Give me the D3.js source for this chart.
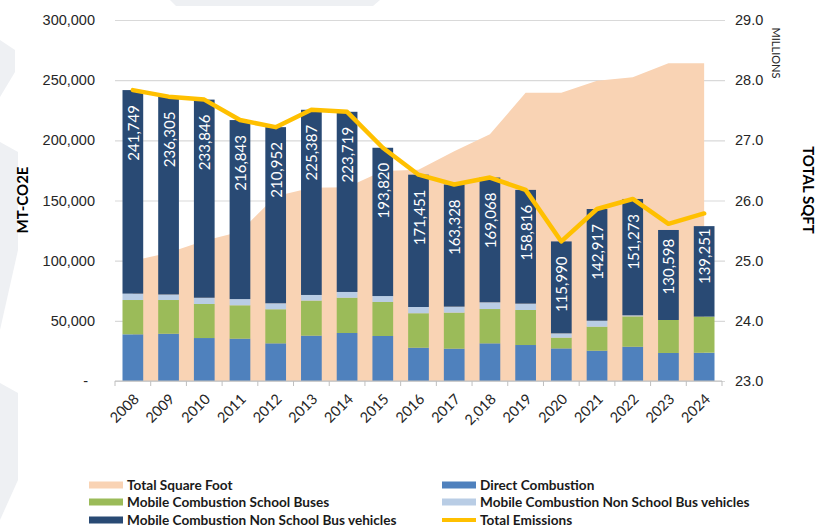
<!DOCTYPE html>
<html><head><meta charset="utf-8">
<script src="https://cdn.jsdelivr.net/npm/d3@7"></script>
<style>
body{margin:0;background:#fff;}
svg{display:block;font-family:Lato,'Open Sans',sans-serif;}
</style>
</head><body>
<svg id="chart" width="817" height="527"></svg>
<script>
const categories = ["2008","2009","2010","2011","2012","2013","2014","2015","2016","2017","2,018","2019","2020","2021","2022","2023","2024"];
const directCombustion = [38800,39300,35700,35200,31300,37700,39900,37400,27700,26900,31300,29900,27100,25200,28500,23300,23500];
const schoolBuses = [28500,28000,28300,27700,28300,29100,29300,28300,28600,29900,28500,29100,8900,19900,25200,27400,30000];
const nonSchoolLight = [5300,4600,5200,5200,5000,4700,4800,4900,5200,5000,5600,5300,3600,5000,900,0,0];
const nonSchoolDark = [169149,164405,164646,148743,146352,153887,149719,123220,109951,101528,103668,94516,76390,92817,96673,74800,75200];
const totalEmissions = [241749,236305,233846,216843,210952,225387,223719,193820,171451,163328,169068,158816,115990,142917,151273,130598,139251];
const totalSquareFootMillions = [25.0,25.13,25.33,25.48,26.07,26.21,26.22,26.49,26.51,26.82,27.1,27.79,27.79,27.99,28.05,28.28,28.28];
const leftTicks = [0,50000,100000,150000,200000,250000,300000];
const rightTicks = [23,24,25,26,27,28,29];
const seriesNames = ["Direct Combustion","Mobile Combustion School Buses","Mobile Combustion Non School Bus vehicles","Mobile Combustion Non School Bus vehicles"];
const seriesColors = ["#4f81bd","#9bbb59","#b9cde5","#294a74"];
const areaColor = "#f9d3b4";
const lineColor = "#ffc000";

const svg = d3.select("#chart");

// faint background decoration
const deco = [
  [[170,0],[380,0],[373,6],[176,6]],
  [[0,40],[15,50],[15,72],[0,97]],
  [[0,142],[18,152],[18,250],[0,330]],
  [[0,383],[18,393],[18,480],[0,520]]
];
svg.append("g").selectAll("path").data(deco).join("path")
  .attr("d", d => d3.line()(d) + "Z").attr("fill", "#eef0f3");

const x = d3.scaleBand().domain(categories).range([115,722]).paddingInner(0.42).paddingOuter(0.21);
const yL = d3.scaleLinear().domain([0,300000]).range([381,20]);
const yR = d3.scaleLinear().domain([23,29]).range([381,20]);
const bw = x.bandwidth();
const cx = c => x(c) + bw/2;

// gridlines + left axis
const gL = svg.append("g").attr("transform","translate(115,0)")
  .call(d3.axisLeft(yL).tickValues(leftTicks).tickSizeInner(-610).tickSizeOuter(0).tickPadding(20)
    .tickFormat(d => d === 0 ? "-" : d3.format(",")(d)));
gL.select(".domain").remove();
gL.selectAll(".tick line").attr("stroke","#d9d9d9").attr("stroke-width",1.2);
gL.selectAll(".tick text").attr("font-size","14.5px").attr("fill","#262626")
  .attr("dx", d => d === 0 ? -7 : 0);

// right axis
const gR = svg.append("g").attr("transform","translate(722,0)")
  .call(d3.axisRight(yR).tickValues(rightTicks).tickSize(0).tickPadding(13).tickFormat(d3.format(".1f")));
gR.select(".domain").remove();
gR.selectAll(".tick text").attr("font-size","14.5px").attr("fill","#262626");

// area
svg.append("path")
  .datum(totalSquareFootMillions)
  .attr("fill", areaColor)
  .attr("d", d3.area().x((d,i) => cx(categories[i])).y0(yR(23)).y1(d => yR(d)));

// stacked bars
const rows = categories.map((c,i) => ({cat:c, a:directCombustion[i], b:schoolBuses[i], c2:nonSchoolLight[i], d:nonSchoolDark[i]}));
const stack = d3.stack().keys(["a","b","c2","d"])(rows);
svg.append("g").selectAll("g").data(stack).join("g")
  .attr("fill", (d,i) => seriesColors[i])
  .selectAll("rect").data(d => d).join("rect")
  .attr("x", d => x(d.data.cat)).attr("width", bw)
  .attr("y", d => yL(d[1])).attr("height", d => yL(d[0]) - yL(d[1]));

// bottom axis
const step = x.step();
const gap = step - bw;
const bounds = categories.map(c => x(c) - gap/2).concat([x(categories[categories.length-1]) + bw + gap/2]);
const gB = svg.append("g");
gB.append("line").attr("x1",115).attr("x2",722).attr("y1",yL(0)).attr("y2",yL(0)).attr("stroke","#bfbfbf").attr("stroke-width",1.2);
gB.selectAll("line.tk").data(bounds).join("line").attr("class","tk")
  .attr("x1", d => d).attr("x2", d => d).attr("y1", yL(0)).attr("y2", yL(0)+5).attr("stroke","#bfbfbf");
gB.selectAll("text").data(categories).join("text")
  .attr("transform", c => `translate(${cx(c)+7},${yL(0)+19}) rotate(-45)`)
  .attr("text-anchor","end").attr("font-size","14.5px").attr("fill","#262626").text(c => c);

// total emissions line
svg.append("path").datum(totalEmissions)
  .attr("fill","none").attr("stroke",lineColor).attr("stroke-width",4.5)
  .attr("stroke-linejoin","round").attr("stroke-linecap","round")
  .attr("d", d3.line().x((d,i) => cx(categories[i])).y(d => yL(d)));

// data labels
svg.append("g").selectAll("text").data(totalEmissions).join("text")
  .attr("transform", (d,i) => `translate(${cx(categories[i])},${yL(d)+15}) rotate(-90)`)
  .attr("text-anchor","end").attr("dominant-baseline","central")
  .attr("font-size","15px").attr("fill","#ffffff").text(d => d3.format(",")(d));

// axis titles
svg.append("text").attr("transform","translate(22,200) rotate(-90)")
  .attr("text-anchor","middle").attr("dominant-baseline","central")
  .attr("font-weight","bold").attr("font-size","15px").attr("fill","#000").text("MT-CO2E");
svg.append("text").attr("transform","translate(776,53) rotate(90)")
  .attr("text-anchor","middle").attr("dominant-baseline","central")
  .attr("font-size","11px").attr("fill","#262626").text("MILLIONS");
svg.append("text").attr("transform","translate(809,190) rotate(90)")
  .attr("text-anchor","middle").attr("dominant-baseline","central")
  .attr("font-weight","bold").attr("font-size","15px").attr("fill","#000").text("TOTAL SQFT");

// legend
const legendItems = [
  {name:"Total Square Foot", color:areaColor, type:"rect", col:0, row:0},
  {name:seriesNames[0], color:seriesColors[0], type:"rect", col:1, row:0},
  {name:seriesNames[1], color:seriesColors[1], type:"rect", col:0, row:1},
  {name:seriesNames[2], color:seriesColors[2], type:"rect", col:1, row:1},
  {name:seriesNames[3], color:seriesColors[3], type:"rect", col:0, row:2},
  {name:"Total Emissions", color:lineColor, type:"line", col:1, row:2}
];
const colX = [89, 442];
const rowY = [485, 502, 520];
const lg = svg.append("g").selectAll("g").data(legendItems).join("g")
  .attr("transform", d => `translate(${colX[d.col]},${rowY[d.row]})`);
lg.append("rect").attr("x",0).attr("width",34)
  .attr("y", d => d.type === "line" ? -2 : -3.5).attr("height", d => d.type === "line" ? 4 : 7)
  .attr("fill", d => d.color);
lg.append("text").attr("x",38).attr("dominant-baseline","central")
  .attr("font-weight","bold").attr("font-size","13.6px").attr("fill","#1a1a1a").text(d => d.name);
</script>
</body></html>
